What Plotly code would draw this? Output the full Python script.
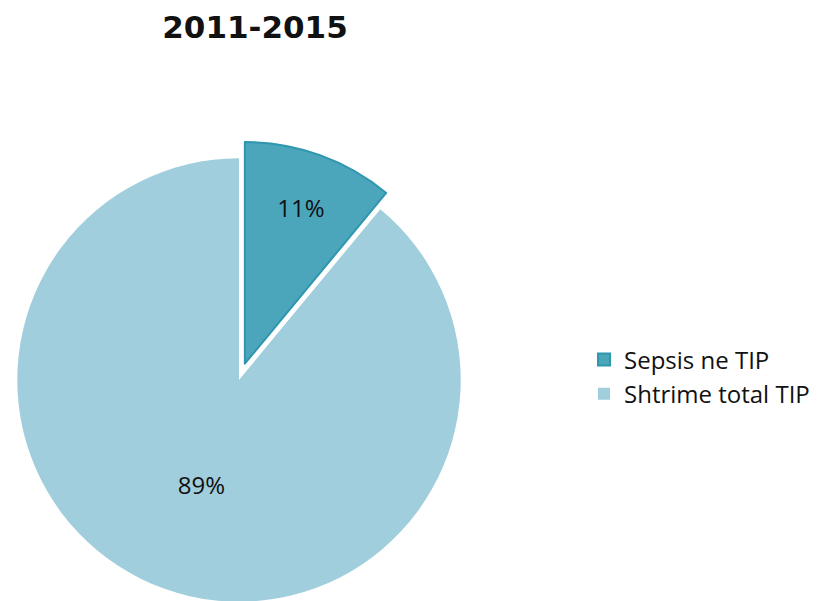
import plotly.graph_objects as go

# Share of sepsis among all TIP admissions, 2011-2015
labels = ["Sepsis ne TIP", "Shtrime total TIP"]
values = [11, 89]
fill_colors = ["#4ba6bc", "#a1cedc"]
edge_colors = ["#2e96ad", "#a1cedc"]
edge_widths = [2, 0]
pulls = [0.078, 0]

W, H = 824, 620   # drawing is a bit taller than the window; the pie runs off the bottom edge
VIEW_H = 601

# pie box: centre (239, 380), half-size 239 px
CX, CY, HALF = 239, 380, 239

fig = go.Figure(
    go.Pie(
        labels=labels,
        values=values,
        sort=False,
        direction="clockwise",
        rotation=0,
        pull=pulls,
        marker=dict(colors=fill_colors, line=dict(color=edge_colors, width=edge_widths)),
        textinfo="percent",
        texttemplate="%{percent:.0%}",
        textposition="inside",
        insidetextorientation="horizontal",
        textfont=dict(family="Open Sans", size=24, color="#111111"),
        domain=dict(
            x=[(CX - HALF) / W, (CX + HALF) / W],
            y=[1 - (CY + HALF) / H, 1 - (CY - HALF) / H],
        ),
        hoverinfo="label+percent",
    )
)

fig.update_layout(
    width=W,
    height=H,
    margin=dict(l=0, r=0, t=0, b=0),
    paper_bgcolor="white",
    plot_bgcolor="white",
    title=dict(
        text="<b>2011-2015</b>",
        font=dict(family="DejaVu Sans", size=31, color="#111111"),
        x=255 / W,
        xanchor="center",
        xref="container",
        y=1 - 27 / H,
        yanchor="middle",
        yref="container",
    ),
    showlegend=True,
    legend=dict(
        x=584 / W,
        xanchor="left",
        y=1 - 377 / H,
        yanchor="middle",
        font=dict(family="Open Sans", size=24, color="#111111"),
        bgcolor="rgba(0,0,0,0)",
    ),
)

# keep the page the size of the window and let the pie's lower edge be cut off
clip_js = (
    "var gd=document.getElementById('{plot_id}');"
    "gd.style.height='" + str(VIEW_H) + "px';gd.style.overflow='hidden';"
    "document.body.style.overflow='hidden';"
    "document.documentElement.style.overflow='hidden';"
)

fig.write_html("out.html", post_script=clip_js)
